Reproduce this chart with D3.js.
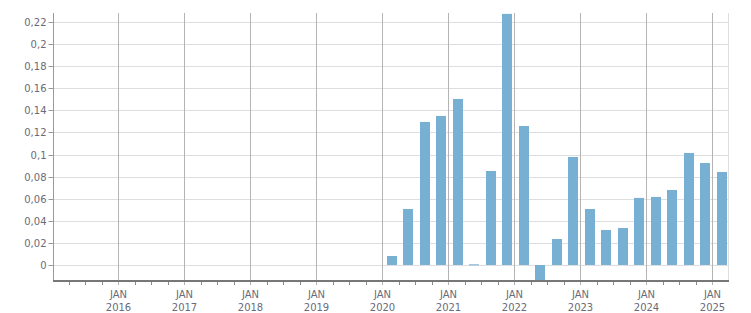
<!DOCTYPE html>
<html>
<head>
<meta charset="utf-8">
<script src="https://cdn.jsdelivr.net/npm/d3@7"></script>
<style>
  body { margin: 0; background: #fff; }
  .tick text { font-family: "DejaVu Sans", sans-serif; font-size: 10px; fill: #6b6b78; }
</style>
</head>
<body>
<div id="chart"></div>
<script>
// quarterly values
var quarters = ["2020-Q1", "2020-Q2", "2020-Q3", "2020-Q4", "2021-Q1", "2021-Q2", "2021-Q3",
  "2021-Q4", "2022-Q1", "2022-Q2", "2022-Q3", "2022-Q4", "2023-Q1", "2023-Q2", "2023-Q3",
  "2023-Q4", "2024-Q1", "2024-Q2", "2024-Q3", "2024-Q4", "2025-Q1"];
var values = [0.0081, 0.0507, 0.1295, 0.1349, 0.1503, 0.0006, 0.0851,
  0.2273, 0.1258, -0.015, 0.0235, 0.0978, 0.0507, 0.0317, 0.0335,
  0.0607, 0.0616, 0.0679, 0.1014, 0.0923, 0.0842];
var yTicks = [0, 0.02, 0.04, 0.06, 0.08, 0.1, 0.12, 0.14, 0.16, 0.18, 0.2, 0.22];
var yearTicks = [2016, 2017, 2018, 2019, 2020, 2021, 2022, 2023, 2024, 2025];

var data = quarters.map(function(q, i){
  var p = q.split("-Q");
  return { date: new Date(+p[0], (+p[1] - 1) * 3, 1), value: values[i] };
});

var width = 751, height = 313;
var m = { left: 53, right: 728, top: 13, bottom: 281 };

var svg = d3.select("#chart").append("svg")
  .attr("width", width)
  .attr("height", height);

var x = d3.scaleTime()
  .domain([new Date(2015, 0, 5), new Date(2025, 2, 28)])
  .range([m.left, m.right]);

var y = d3.scaleLinear()
  .domain([-0.0145, 0.2281])
  .range([m.bottom, m.top]);

var fmt = function(d){ return d3.format("~g")(d).replace(".", ","); };

// horizontal grid
svg.append("g").selectAll("line")
  .data(yTicks)
  .enter().append("line")
  .attr("x1", m.left).attr("x2", m.right)
  .attr("y1", function(d){ return Math.round(y(d)) + 0.5; })
  .attr("y2", function(d){ return Math.round(y(d)) + 0.5; })
  .attr("stroke", "#dedede");

// right border
svg.append("line")
  .attr("x1", m.right + 0.5).attr("x2", m.right + 0.5)
  .attr("y1", m.top).attr("y2", m.bottom)
  .attr("stroke", "#dedede");

// vertical grid at January
var janDates = yearTicks.map(function(yr){ return new Date(yr, 0, 1); });
svg.append("g").selectAll("line")
  .data(janDates)
  .enter().append("line")
  .attr("x1", function(d){ return Math.round(x(d)) + 0.5; })
  .attr("x2", function(d){ return Math.round(x(d)) + 0.5; })
  .attr("y1", m.top).attr("y2", m.bottom)
  .attr("stroke", "#b4b4b4");

// bars
svg.append("defs").append("clipPath").attr("id", "clip")
  .append("rect").attr("x", m.left).attr("y", m.top)
  .attr("width", m.right - m.left).attr("height", m.bottom - m.top);

svg.append("g").attr("clip-path", "url(#clip)")
  .selectAll(".bar")
  .data(data)
  .enter().append("rect")
  .attr("class", "bar")
  .attr("x", function(d){ return Math.round(x(d.date) + 4.5); })
  .attr("width", 10)
  .attr("y", function(d){ return y(Math.max(0, d.value)); })
  .attr("height", function(d){ return Math.max(1, Math.abs(y(d.value) - y(0))); })
  .attr("fill", "#77b0d3");

// y axis
var yAxis = svg.append("g")
  .attr("transform", "translate(" + (m.left + 0.5) + ",0)")
  .call(d3.axisLeft(y).tickValues(yTicks).tickSize(5).tickPadding(2).tickFormat(fmt));
yAxis.select(".domain").remove();
yAxis.selectAll(".tick line").attr("stroke", "#999");
yAxis.selectAll(".tick").attr("transform", function(d){ return "translate(0," + (Math.round(y(d)) + 0.5) + ")"; });
svg.append("line")
  .attr("x1", m.left + 0.5).attr("x2", m.left + 0.5)
  .attr("y1", m.top).attr("y2", m.bottom)
  .attr("stroke", "#9a9a9a");

// x axis: minor quarterly ticks
var minor = d3.timeMonth.every(3).range(new Date(2015, 3, 1), new Date(2025, 3, 1))
  .filter(function(d){ return d.getMonth() !== 0; });
svg.append("g").selectAll("line")
  .data(minor)
  .enter().append("line")
  .attr("x1", function(d){ return Math.round(x(d)) + 0.5; })
  .attr("x2", function(d){ return Math.round(x(d)) + 0.5; })
  .attr("y1", m.bottom).attr("y2", m.bottom + 4)
  .attr("stroke", "#888");

var xAxis = svg.append("g")
  .attr("transform", "translate(0," + m.bottom + ")")
  .call(d3.axisBottom(x).tickValues(janDates).tickSize(4).tickPadding(6).tickFormat(""));
xAxis.select(".domain").remove();
xAxis.selectAll(".tick").attr("transform", function(d){ return "translate(" + (Math.round(x(d)) + 0.5) + ",0)"; });
xAxis.selectAll(".tick line").attr("stroke", "#b4b4b4");
var lbl = xAxis.selectAll(".tick text").attr("y", 0).attr("dy", 0);
lbl.append("tspan").attr("x", 0).attr("y", 17).text("JAN");
lbl.append("tspan").attr("x", 0).attr("y", 30).text(function(d){ return d.getFullYear(); });

// bottom axis line
svg.append("line")
  .attr("x1", m.left).attr("x2", m.right + 1)
  .attr("y1", m.bottom).attr("y2", m.bottom)
  .attr("stroke", "#777")
  .attr("stroke-width", 2);
</script>
</body>
</html>
